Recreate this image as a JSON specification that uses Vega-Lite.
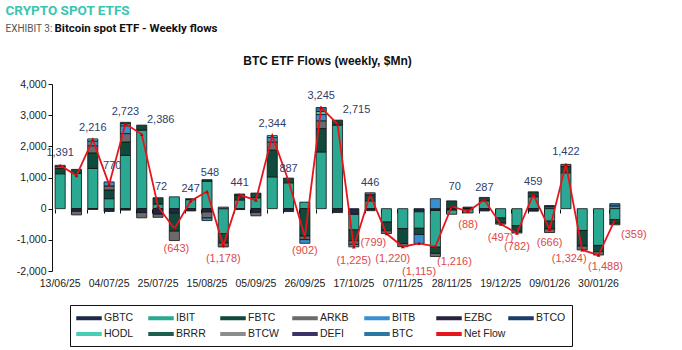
{
  "$schema": "https://vega.github.io/schema/vega-lite/v6.json",
  "autosize": {"type": "none"},
  "width": 571,
  "height": 187,
  "padding": {"left": 52, "top": 84, "right": 59, "bottom": 79},
  "background": "white",
  "config": {"view": {"stroke": null}},
  "datasets": {
    "flows": [
      {"w": "13/06/25", "e": "IBIT", "v": 1120}, {"w": "13/06/25", "e": "FBTC", "v": 170}, {"w": "13/06/25", "e": "ARKB", "v": 60}, {"w": "13/06/25", "e": "BITB", "v": 41},
      {"w": "20/06/25", "e": "IBIT", "v": 1130}, {"w": "20/06/25", "e": "FBTC", "v": 130}, {"w": "20/06/25", "e": "ARKB", "v": -120}, {"w": "20/06/25", "e": "GBTC", "v": -80},
      {"w": "27/06/25", "e": "IBIT", "v": 1290}, {"w": "27/06/25", "e": "FBTC", "v": 500}, {"w": "27/06/25", "e": "ARKB", "v": 230}, {"w": "27/06/25", "e": "BITB", "v": 150}, {"w": "27/06/25", "e": "HODL", "v": 70}, {"w": "27/06/25", "e": "GBTC", "v": -24},
      {"w": "04/07/25", "e": "IBIT", "v": 320}, {"w": "04/07/25", "e": "FBTC", "v": 280}, {"w": "04/07/25", "e": "ARKB", "v": 130}, {"w": "04/07/25", "e": "BITB", "v": 130}, {"w": "04/07/25", "e": "GBTC", "v": -90},
      {"w": "11/07/25", "e": "IBIT", "v": 1710}, {"w": "11/07/25", "e": "FBTC", "v": 430}, {"w": "11/07/25", "e": "ARKB", "v": 270}, {"w": "11/07/25", "e": "BITB", "v": 250}, {"w": "11/07/25", "e": "BRRR", "v": 50}, {"w": "11/07/25", "e": "HODL", "v": 60}, {"w": "11/07/25", "e": "GBTC", "v": -47},
      {"w": "18/07/25", "e": "IBIT", "v": 2520}, {"w": "18/07/25", "e": "FBTC", "v": 160}, {"w": "18/07/25", "e": "ARKB", "v": -170}, {"w": "18/07/25", "e": "GBTC", "v": -124},
      {"w": "25/07/25", "e": "FBTC", "v": 210}, {"w": "25/07/25", "e": "IBIT", "v": 140}, {"w": "25/07/25", "e": "GBTC", "v": -180}, {"w": "25/07/25", "e": "ARKB", "v": -98},
      {"w": "01/08/25", "e": "IBIT", "v": 380}, {"w": "01/08/25", "e": "FBTC", "v": -590}, {"w": "01/08/25", "e": "ARKB", "v": -300}, {"w": "01/08/25", "e": "GBTC", "v": -133},
      {"w": "08/08/25", "e": "IBIT", "v": 290}, {"w": "08/08/25", "e": "FBTC", "v": 30}, {"w": "08/08/25", "e": "GBTC", "v": -73},
      {"w": "15/08/25", "e": "IBIT", "v": 880}, {"w": "15/08/25", "e": "FBTC", "v": 50}, {"w": "15/08/25", "e": "ARKB", "v": -200}, {"w": "15/08/25", "e": "GBTC", "v": -100}, {"w": "15/08/25", "e": "BITB", "v": -82},
      {"w": "22/08/25", "e": "IBIT", "v": -800}, {"w": "22/08/25", "e": "FBTC", "v": -300}, {"w": "22/08/25", "e": "ARKB", "v": -128}, {"w": "22/08/25", "e": "BITB", "v": 50},
      {"w": "29/08/25", "e": "IBIT", "v": 280}, {"w": "29/08/25", "e": "FBTC", "v": 160}, {"w": "29/08/25", "e": "ARKB", "v": 30}, {"w": "29/08/25", "e": "GBTC", "v": -29},
      {"w": "05/09/25", "e": "IBIT", "v": 350}, {"w": "05/09/25", "e": "FBTC", "v": 150}, {"w": "05/09/25", "e": "GBTC", "v": -120}, {"w": "05/09/25", "e": "ARKB", "v": -110},
      {"w": "12/09/25", "e": "IBIT", "v": 1020}, {"w": "12/09/25", "e": "FBTC", "v": 860}, {"w": "12/09/25", "e": "ARKB", "v": 260}, {"w": "12/09/25", "e": "BITB", "v": 140}, {"w": "12/09/25", "e": "HODL", "v": 64},
      {"w": "19/09/25", "e": "IBIT", "v": 830}, {"w": "19/09/25", "e": "FBTC", "v": 150}, {"w": "19/09/25", "e": "GBTC", "v": -93},
      {"w": "26/09/25", "e": "IBIT", "v": 210}, {"w": "26/09/25", "e": "FBTC", "v": -880}, {"w": "26/09/25", "e": "BITB", "v": -120}, {"w": "26/09/25", "e": "ARKB", "v": -112},
      {"w": "03/10/25", "e": "IBIT", "v": 1820}, {"w": "03/10/25", "e": "FBTC", "v": 750}, {"w": "03/10/25", "e": "ARKB", "v": 250}, {"w": "03/10/25", "e": "BITB", "v": 200}, {"w": "03/10/25", "e": "BTC", "v": 130}, {"w": "03/10/25", "e": "HODL", "v": 95},
      {"w": "10/10/25", "e": "IBIT", "v": 2680}, {"w": "10/10/25", "e": "FBTC", "v": 160}, {"w": "10/10/25", "e": "GBTC", "v": -125},
      {"w": "17/10/25", "e": "IBIT", "v": -500}, {"w": "17/10/25", "e": "FBTC", "v": -350}, {"w": "17/10/25", "e": "GBTC", "v": -180}, {"w": "17/10/25", "e": "ARKB", "v": -115}, {"w": "17/10/25", "e": "BITB", "v": -80},
      {"w": "24/10/25", "e": "IBIT", "v": 250}, {"w": "24/10/25", "e": "FBTC", "v": 200}, {"w": "24/10/25", "e": "BITB", "v": 60}, {"w": "24/10/25", "e": "GBTC", "v": -64},
      {"w": "31/10/25", "e": "IBIT", "v": -430}, {"w": "31/10/25", "e": "FBTC", "v": -280}, {"w": "31/10/25", "e": "ARKB", "v": -89},
      {"w": "07/11/25", "e": "IBIT", "v": -640}, {"w": "07/11/25", "e": "FBTC", "v": -480}, {"w": "07/11/25", "e": "ARKB", "v": -100},
      {"w": "14/11/25", "e": "GBTC", "v": -100}, {"w": "14/11/25", "e": "IBIT", "v": -530}, {"w": "14/11/25", "e": "FBTC", "v": -200}, {"w": "14/11/25", "e": "BITB", "v": -285},
      {"w": "21/11/25", "e": "IBIT", "v": -1180}, {"w": "21/11/25", "e": "FBTC", "v": -200}, {"w": "21/11/25", "e": "ARKB", "v": -100}, {"w": "21/11/25", "e": "GBTC", "v": -56}, {"w": "21/11/25", "e": "BITB", "v": 320},
      {"w": "28/11/25", "e": "FBTC", "v": 250}, {"w": "28/11/25", "e": "IBIT", "v": -140}, {"w": "28/11/25", "e": "GBTC", "v": -40},
      {"w": "05/12/25", "e": "IBIT", "v": -130}, {"w": "05/12/25", "e": "FBTC", "v": 50}, {"w": "05/12/25", "e": "GBTC", "v": -8},
      {"w": "12/12/25", "e": "IBIT", "v": 250}, {"w": "12/12/25", "e": "FBTC", "v": 110}, {"w": "12/12/25", "e": "GBTC", "v": -73},
      {"w": "19/12/25", "e": "IBIT", "v": -300}, {"w": "19/12/25", "e": "FBTC", "v": -150}, {"w": "19/12/25", "e": "ARKB", "v": -47},
      {"w": "26/12/25", "e": "IBIT", "v": -550}, {"w": "26/12/25", "e": "FBTC", "v": -180}, {"w": "26/12/25", "e": "ARKB", "v": -52},
      {"w": "02/01/26", "e": "IBIT", "v": 380}, {"w": "02/01/26", "e": "FBTC", "v": 160}, {"w": "02/01/26", "e": "GBTC", "v": -81},
      {"w": "09/01/26", "e": "BTCO", "v": 50}, {"w": "09/01/26", "e": "BITB", "v": 50}, {"w": "09/01/26", "e": "IBIT", "v": -400}, {"w": "09/01/26", "e": "FBTC", "v": -250}, {"w": "09/01/26", "e": "ARKB", "v": -116},
      {"w": "16/01/26", "e": "IBIT", "v": 1150}, {"w": "16/01/26", "e": "FBTC", "v": 200}, {"w": "16/01/26", "e": "ARKB", "v": 72},
      {"w": "23/01/26", "e": "IBIT", "v": -700}, {"w": "23/01/26", "e": "FBTC", "v": -500}, {"w": "23/01/26", "e": "ARKB", "v": -124},
      {"w": "30/01/26", "e": "IBIT", "v": -1180}, {"w": "30/01/26", "e": "FBTC", "v": -200}, {"w": "30/01/26", "e": "ARKB", "v": -108},
      {"w": "06/02/26", "e": "BTC", "v": 80}, {"w": "06/02/26", "e": "BITB", "v": 80}, {"w": "06/02/26", "e": "IBIT", "v": -350}, {"w": "06/02/26", "e": "FBTC", "v": -120}, {"w": "06/02/26", "e": "ARKB", "v": -49}
    ],
    "net": [
      {"w": "13/06/25", "net": 1391, "label": "1,391"},
      {"w": "20/06/25", "net": 1060, "label": ""},
      {"w": "27/06/25", "net": 2216, "label": "2,216"},
      {"w": "04/07/25", "net": 770, "label": "770"},
      {"w": "11/07/25", "net": 2723, "label": "2,723"},
      {"w": "18/07/25", "net": 2386, "label": "2,386"},
      {"w": "25/07/25", "net": 72, "label": "72"},
      {"w": "01/08/25", "net": -643, "label": "(643)"},
      {"w": "08/08/25", "net": 247, "label": "247"},
      {"w": "15/08/25", "net": 548, "label": "548"},
      {"w": "22/08/25", "net": -1178, "label": "(1,178)"},
      {"w": "29/08/25", "net": 441, "label": "441"},
      {"w": "05/09/25", "net": 270, "label": ""},
      {"w": "12/09/25", "net": 2344, "label": "2,344"},
      {"w": "19/09/25", "net": 887, "label": "887"},
      {"w": "26/09/25", "net": -902, "label": "(902)"},
      {"w": "03/10/25", "net": 3245, "label": "3,245"},
      {"w": "10/10/25", "net": 2715, "label": "2,715"},
      {"w": "17/10/25", "net": -1225, "label": "(1,225)"},
      {"w": "24/10/25", "net": 446, "label": "446"},
      {"w": "31/10/25", "net": -799, "label": "(799)"},
      {"w": "07/11/25", "net": -1220, "label": "(1,220)"},
      {"w": "14/11/25", "net": -1115, "label": "(1,115)"},
      {"w": "21/11/25", "net": -1216, "label": "(1,216)"},
      {"w": "28/11/25", "net": 70, "label": "70"},
      {"w": "05/12/25", "net": -88, "label": "(88)"},
      {"w": "12/12/25", "net": 287, "label": "287"},
      {"w": "19/12/25", "net": -497, "label": "(497)"},
      {"w": "26/12/25", "net": -782, "label": "(782)"},
      {"w": "02/01/26", "net": 459, "label": "459"},
      {"w": "09/01/26", "net": -666, "label": "(666)"},
      {"w": "16/01/26", "net": 1422, "label": "1,422"},
      {"w": "23/01/26", "net": -1324, "label": "(1,324)"},
      {"w": "30/01/26", "net": -1488, "label": "(1,488)"},
      {"w": "06/02/26", "net": -359, "label": "(359)"}
    ]
  },
  "layer": [
    {
      "data": {"name": "flows"},
      "transform": [{"calculate": "indexof(['GBTC','IBIT','FBTC','ARKB','BITB','EZBC','BTCO','HODL','BRRR','BTCW','DEFI','BTC'], datum.e)", "as": "idx"}],
      "mark": {"type": "bar", "stroke": "#111111", "strokeWidth": 0.8},
      "encoding": {
        "x": {
          "field": "w", "type": "ordinal",
          "scale": {"domain": ["13/06/25","20/06/25","27/06/25","04/07/25","11/07/25","18/07/25","25/07/25","01/08/25","08/08/25","15/08/25","22/08/25","29/08/25","05/09/25","12/09/25","19/09/25","26/09/25","03/10/25","10/10/25","17/10/25","24/10/25","31/10/25","07/11/25","14/11/25","21/11/25","28/11/25","05/12/25","12/12/25","19/12/25","26/12/25","02/01/26","09/01/26","16/01/26","23/01/26","30/01/26","06/02/26"], "paddingInner": 0.38, "paddingOuter": 0.19},
          "axis": {
            "orient": "bottom",
            "values": ["13/06/25","04/07/25","25/07/25","15/08/25","05/09/25","26/09/25","17/10/25","07/11/25","28/11/25","19/12/25","09/01/26","30/01/26"],
            "domain": false, "ticks": false, "labelAngle": 0, "labelPadding": 7,
            "labelFont": "Liberation Sans", "labelFontSize": 10.5, "labelColor": "#222222",
            "title": "CRYPTO SPOT ETFS", "titleX": -47, "titleY": -261, "titleAlign": "left", "titleBaseline": "middle",
            "titleFont": "Roboto", "titleFontSize": 13.5, "titleFontWeight": "bold", "titleColor": "#3cc4b0"
          }
        },
        "y": {
          "field": "v", "type": "quantitative", "stack": "zero",
          "scale": {"domain": [-2000, 4000], "nice": false, "zero": false},
          "axis": {
            "orient": "left", "values": [-2000, -1000, 0, 1000, 2000, 3000, 4000], "format": ",d",
            "labelExpr": "replace(datum.label, '\u2212', '-')",
            "grid": false, "domainColor": "#111111", "tickColor": "#111111", "tickSize": 4, "labelPadding": 2,
            "labelFont": "Liberation Sans", "labelFontSize": 10.5, "labelColor": "#222222",
            "title": "EXHIBIT 3:", "titleAngle": 0, "titleX": -47, "titleY": -56, "titleAlign": "left", "titleBaseline": "middle",
            "titleFont": "Roboto", "titleFontSize": 10, "titleFontWeight": "normal", "titleColor": "#555555"
          }
        },
        "color": {
          "field": "e", "type": "nominal",
          "scale": {
            "domain": ["GBTC","IBIT","FBTC","ARKB","BITB","EZBC","BTCO","HODL","BRRR","BTCW","DEFI","BTC","Net Flow"],
            "range": ["#1c2a48","#2aa892","#0f4a3c","#6b6b6b","#3a8fd0","#2a2340","#1f3c66","#48cdb6","#1e5e4e","#8c8c8c","#3b3566","#2a76a4","#e8141c"]
          },
          "legend": {
            "orient": "none", "legendX": 18, "legendY": 221, "direction": "horizontal", "columns": 7, "title": null,
            "strokeColor": "#111111", "padding": 6, "gridAlign": "all", "columnPadding": 0, "rowPadding": 3,
            "labelFont": "Liberation Sans", "labelFontSize": 10.5, "labelColor": "#222222", "labelOffset": 8,
            "symbolSize": 144, "symbolOffset": 6, "symbolType": "M-2,-0.22H2V0.22H-2Z",
            "encode": {
              "symbols": {
                "update": {
                  "shape": {"signal": "datum.value === 'Net Flow' ? 'M-2,0H2' : 'M-2,-0.22H2V0.22H-2Z'"},
                  "fill": {"signal": "datum.value === 'Net Flow' ? 'transparent' : scale('color', datum.value)"},
                  "stroke": {"signal": "datum.value === 'Net Flow' ? '#e8141c' : '#222222'"},
                  "strokeWidth": {"signal": "datum.value === 'Net Flow' ? 2 : 0.8"},
                  "opacity": {"value": 1}
                }
              }
            }
          }
        },
        "order": {"field": "idx", "type": "quantitative"}
      }
    },
    {
      "mark": {"type": "rule", "color": "#111111", "strokeWidth": 1},
      "encoding": {"y": {"datum": 0, "type": "quantitative", "axis": null}}
    },
    {
      "data": {"name": "net"},
      "mark": {"type": "line", "strokeWidth": 1.8},
      "encoding": {
        "x": {
          "field": "w", "type": "ordinal",
          "axis": {
            "orient": "top", "labels": false, "ticks": false, "domain": false,
            "title": "BTC ETF Flows (weekly, $Mn)", "titleX": 275, "titleY": -24, "titleAlign": "center", "titleBaseline": "middle",
            "titleFont": "Liberation Sans", "titleFontSize": 12, "titleFontWeight": "bold", "titleColor": "#111111"
          }
        },
        "y": {
          "field": "net", "type": "quantitative",
          "axis": {
            "orient": "right", "labels": false, "ticks": false, "domain": false, "grid": false,
            "title": "Bitcoin spot ETF - Weekly flows", "titleAngle": 0, "titleX": -569, "titleY": -56, "titleAlign": "left", "titleBaseline": "middle",
            "titleFont": "Roboto", "titleFontSize": 11.5, "titleFontWeight": "bold", "titleColor": "#111111"
          }
        },
        "color": {"datum": "Net Flow"}
      }
    },
    {
      "data": {"name": "net"},
      "mark": {"type": "point", "shape": "triangle-up", "filled": true, "size": 14, "color": "#c00000", "opacity": 1},
      "encoding": {
        "x": {
          "field": "w", "type": "ordinal",
          "axis": {"orient": "bottom", "offset": -62, "labels": false, "domain": false, "ticks": true, "bandPosition": 0, "tickSize": 4, "tickColor": "#111111", "title": null}
        },
        "y": {"field": "net", "type": "quantitative", "axis": null}
      }
    },
    {
      "data": {"name": "net"},
      "transform": [{"filter": "datum.net >= 0 && datum.label != '' && indexof(['18/07/25','10/10/25','04/07/25','25/07/25','15/08/25','28/11/25'], datum.w) < 0"}],
      "mark": {"type": "text", "dy": -12, "font": "Liberation Sans", "fontSize": 11, "color": "#2e3d6b"},
      "encoding": {
        "x": {"field": "w", "type": "ordinal", "axis": null},
        "y": {"field": "net", "type": "quantitative", "axis": null},
        "text": {"field": "label"}
      }
    },
    {
      "data": {"name": "net"},
      "transform": [{"filter": "indexof(['04/07/25','25/07/25','15/08/25','28/11/25'], datum.w) >= 0"}],
      "mark": {"type": "text", "dx": 3, "dy": -19, "font": "Liberation Sans", "fontSize": 11, "color": "#2e3d6b"},
      "encoding": {
        "x": {"field": "w", "type": "ordinal", "axis": null},
        "y": {"field": "net", "type": "quantitative", "axis": null},
        "text": {"field": "label"}
      }
    },
    {
      "data": {"name": "net"},
      "transform": [{"filter": "indexof(['18/07/25','10/10/25'], datum.w) >= 0"}],
      "mark": {"type": "text", "dx": 19, "dy": -14, "font": "Liberation Sans", "fontSize": 11, "color": "#2e3d6b"},
      "encoding": {
        "x": {"field": "w", "type": "ordinal", "axis": null},
        "y": {"field": "net", "type": "quantitative", "axis": null},
        "text": {"field": "label"}
      }
    },
    {
      "data": {"name": "net"},
      "transform": [{"filter": "datum.net < 0 && indexof(['01/08/25','31/10/25','07/11/25','14/11/25','21/11/25','23/01/26','30/01/26','06/02/26'], datum.w) < 0"}],
      "mark": {"type": "text", "dy": 14, "font": "Liberation Sans", "fontSize": 11, "color": "#e04848"},
      "encoding": {
        "x": {"field": "w", "type": "ordinal", "axis": null},
        "y": {"field": "net", "type": "quantitative", "axis": null},
        "text": {"field": "label"}
      }
    },
    {
      "data": {"name": "net"},
      "transform": [{"filter": "datum.w == '01/08/25'"}],
      "mark": {"type": "text", "dx": 2, "dy": 20, "font": "Liberation Sans", "fontSize": 11, "color": "#e04848"},
      "encoding": {
        "x": {"field": "w", "type": "ordinal", "axis": null},
        "y": {"field": "net", "type": "quantitative", "axis": null},
        "text": {"field": "label"}
      }
    },
    {
      "data": {"name": "net"},
      "transform": [{"filter": "indexof(['31/10/25','23/01/26'], datum.w) >= 0"}],
      "mark": {"type": "text", "dx": -13, "dy": 9, "font": "Liberation Sans", "fontSize": 11, "color": "#e04848"},
      "encoding": {
        "x": {"field": "w", "type": "ordinal", "axis": null},
        "y": {"field": "net", "type": "quantitative", "axis": null},
        "text": {"field": "label"}
      }
    },
    {
      "data": {"name": "net"},
      "transform": [{"filter": "datum.w == '07/11/25'"}],
      "mark": {"type": "text", "dx": -10, "dy": 12, "font": "Liberation Sans", "fontSize": 11, "color": "#e04848"},
      "encoding": {
        "x": {"field": "w", "type": "ordinal", "axis": null},
        "y": {"field": "net", "type": "quantitative", "axis": null},
        "text": {"field": "label"}
      }
    },
    {
      "data": {"name": "net"},
      "transform": [{"filter": "indexof(['21/11/25','06/02/26'], datum.w) >= 0"}],
      "mark": {"type": "text", "dx": 19, "dy": 15, "font": "Liberation Sans", "fontSize": 11, "color": "#e04848"},
      "encoding": {
        "x": {"field": "w", "type": "ordinal", "axis": null},
        "y": {"field": "net", "type": "quantitative", "axis": null},
        "text": {"field": "label"}
      }
    },
    {
      "data": {"name": "net"},
      "transform": [{"filter": "datum.w == '30/01/26'"}],
      "mark": {"type": "text", "dx": 7, "dy": 12, "font": "Liberation Sans", "fontSize": 11, "color": "#e04848"},
      "encoding": {
        "x": {"field": "w", "type": "ordinal", "axis": null},
        "y": {"field": "net", "type": "quantitative", "axis": null},
        "text": {"field": "label"}
      }
    },
    {
      "data": {"name": "net"},
      "transform": [{"filter": "datum.w == '14/11/25'"}],
      "mark": {"type": "text", "dy": 29, "font": "Liberation Sans", "fontSize": 11, "color": "#e04848"},
      "encoding": {
        "x": {"field": "w", "type": "ordinal", "axis": null},
        "y": {"field": "net", "type": "quantitative", "axis": null},
        "text": {"field": "label"}
      }
    }
  ],
  "resolve": {"axis": {"x": "independent", "y": "independent"}}
}
